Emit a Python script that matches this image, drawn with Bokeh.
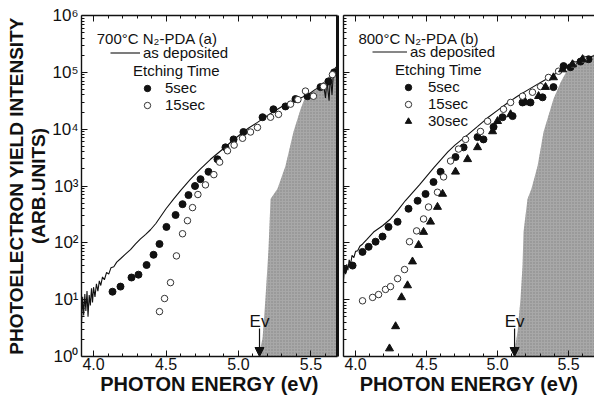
from bokeh.plotting import figure
from bokeh.layouts import row
from bokeh.models import (Range1d, LogAxis, LinearAxis, Legend, LegendItem, Label,
                          Arrow, NormalHead, FixedTicker, ColumnDataSource)
from bokeh.embed import file_html
from bokeh.resources import INLINE

FONT = "Liberation Sans"
INK = "#111111"
SHADE = "#a8a8a8"

# ---------------- axes / ticks ----------------
X_RANGE_A = (3.917, 5.683)
X_RANGE_B = (3.915, 5.683)
Y_RANGE = (1, 1e6)
XTICKS = [4.0, 4.5, 5.0, 5.5]
XTICK_LABELS = ["4.0", "4.5", "5.0", "5.5"]
XMINOR = [4.1, 4.2, 4.3, 4.4, 4.6, 4.7, 4.8, 4.9, 5.1, 5.2, 5.3, 5.4, 5.6]
YTICKS = [1, 10, 100, 1000, 10000, 100000, 1000000]
YTICK_LABELS = ["10⁰", "10¹", "10²", "10³", "10⁴", "10⁵", "10⁶"]
YMINOR = [m * 10 ** k for k in range(6) for m in range(2, 10)]

# ---------------- panel (a): 700C N2-PDA ----------------
# photon energy (eV), log10(intensity)
asdep_a_e = [3.917, 3.925, 3.932, 3.940, 3.947, 3.955, 3.962, 3.970, 3.978, 3.986,
             3.993, 4.000, 4.010, 4.020, 4.030, 4.040, 4.050, 4.062, 4.075, 4.090,
             4.105, 4.120, 4.140, 4.160, 4.186, 4.220, 4.255, 4.290, 4.324, 4.360,
             4.393, 4.430, 4.462, 4.500, 4.552, 4.600, 4.669, 4.738, 4.807, 4.897,
             4.960, 5.014, 5.070, 5.131, 5.200, 5.269, 5.320, 5.359, 5.420, 5.476,
             5.530, 5.560, 5.586, 5.600, 5.610, 5.625, 5.634, 5.645, 5.655, 5.669, 5.683]
asdep_a_log = [0.58, 1.05, 0.72, 1.10, 0.80, 1.15, 0.70, 1.08, 0.90, 1.20,
               0.95, 1.22, 1.05, 1.28, 1.15, 1.33, 1.25, 1.40, 1.35, 1.48,
               1.45, 1.56, 1.58, 1.66, 1.72, 1.80, 1.88, 1.98, 2.07, 2.15,
               2.23, 2.34, 2.46, 2.60, 2.77, 2.92, 3.12, 3.30, 3.47, 3.66,
               3.80, 3.91, 4.02, 4.12, 4.24, 4.35, 4.43, 4.48, 4.54, 4.60,
               4.70, 4.74, 4.82, 4.55, 4.85, 4.50, 4.95, 4.60, 5.00, 5.08, 5.12]
s5_a_e = [4.131, 4.186, 4.262, 4.310, 4.366, 4.414, 4.455, 4.503, 4.566, 4.614,
          4.655, 4.700, 4.738, 4.793, 4.855, 4.910, 4.966, 5.034, 5.166, 5.241,
          5.324, 5.393, 5.476, 5.566, 5.620, 5.660]
s5_a_log = [1.14, 1.23, 1.39, 1.44, 1.61, 1.79, 1.98, 2.28, 2.49, 2.68,
            2.84, 3.00, 3.12, 3.25, 3.47, 3.68, 3.82, 3.95, 4.21, 4.35,
            4.40, 4.53, 4.58, 4.74, 4.84, 5.00]
s15_a_e = [4.455, 4.490, 4.531, 4.572, 4.614, 4.648, 4.683, 4.720, 4.772, 4.830,
           4.870, 4.924, 4.970, 5.028, 5.083, 5.131, 5.221, 5.276, 5.359, 5.410,
           5.462, 5.517, 5.586, 5.648]
s15_a_log = [0.79, 1.02, 1.30, 1.77, 2.16, 2.39, 2.62, 2.85, 3.02, 3.20,
             3.42, 3.62, 3.72, 3.84, 3.95, 4.03, 4.21, 4.26, 4.44, 4.52,
             4.67, 4.58, 4.75, 4.96]
band_a_e = [5.138, 5.166, 5.186, 5.207, 5.221, 5.269, 5.324, 5.379, 5.428, 5.462,
            5.566, 5.634, 5.683, 5.683]
band_a_log = [0.0, 0.32, 1.02, 1.89, 2.77, 2.95, 3.35, 3.95, 4.35, 4.58,
              4.74, 4.96, 5.09, 0.0]
EV_A = 5.145

# ---------------- panel (b): 800C N2-PDA ----------------
asdep_b_e = [3.915, 3.922, 3.930, 3.938, 3.946, 3.955, 3.965, 3.975, 3.988, 4.000,
             4.015, 4.030, 4.050, 4.080, 4.127, 4.190, 4.246, 4.300, 4.350, 4.400,
             4.450, 4.500, 4.550, 4.600, 4.650, 4.700, 4.789, 4.860, 4.930, 5.000,
             5.070, 5.140, 5.220, 5.303, 5.380, 5.450, 5.514, 5.580, 5.640, 5.690]
asdep_b_log = [1.35, 1.55, 1.45, 1.62, 1.52, 1.70, 1.62, 1.78, 1.74, 1.85,
               1.86, 1.94, 1.98, 2.06, 2.19, 2.30, 2.42, 2.58, 2.74, 2.88,
               3.02, 3.17, 3.32, 3.46, 3.60, 3.72, 3.90, 4.05, 4.20, 4.33,
               4.46, 4.58, 4.70, 4.82, 4.93, 5.04, 5.14, 5.21, 5.26, 5.30]
s5_b_e = [3.915, 3.979, 4.049, 4.092, 4.141, 4.190, 4.232, 4.296, 4.373, 4.437,
          4.493, 4.549, 4.599, 4.704, 4.761, 4.859, 4.901, 4.972, 5.035, 5.106,
          5.176, 5.232, 5.317, 5.394, 5.465, 5.514, 5.585, 5.641]
s5_b_log = [1.53, 1.60, 1.84, 1.93, 2.02, 2.11, 2.28, 2.37, 2.60, 2.74,
            2.86, 3.07, 3.25, 3.51, 3.68, 3.86, 3.82, 4.04, 4.21, 4.23,
            4.47, 4.47, 4.56, 4.74, 5.11, 5.09, 5.19, 5.23]
s15_b_e = [4.049, 4.120, 4.162, 4.211, 4.246, 4.296, 4.345, 4.380, 4.430, 4.479,
           4.514, 4.577, 4.620, 4.669, 4.725, 4.775, 4.880, 4.930, 5.042, 5.092,
           5.176, 5.246, 5.303, 5.359, 5.430, 5.535, 5.606]
s15_b_log = [0.98, 1.04, 1.09, 1.18, 1.23, 1.37, 1.53, 2.02, 2.21, 2.42,
             2.63, 2.89, 3.16, 3.44, 3.65, 3.82, 3.96, 4.14, 4.35, 4.47,
             4.58, 4.65, 4.75, 4.91, 5.02, 5.14, 5.23]
s30_b_e = [4.239, 4.282, 4.324, 4.366, 4.401, 4.444, 4.479, 4.528, 4.577, 4.613,
           4.704, 4.789, 4.859, 4.965, 5.000, 5.092, 5.197, 5.289, 5.338, 5.394,
           5.458, 5.528, 5.599]
s30_b_log = [0.14, 0.53, 1.04, 1.25, 1.67, 1.96, 2.19, 2.37, 2.63, 2.86,
             3.25, 3.47, 3.68, 3.96, 4.14, 4.26, 4.47, 4.58, 4.74, 4.91,
             5.05, 5.14, 5.23]
band_b_e = [5.113, 5.141, 5.162, 5.176, 5.183, 5.211, 5.239, 5.282, 5.324, 5.394,
            5.444, 5.493, 5.585, 5.683, 5.683]
band_b_log = [0.0, 0.44, 1.02, 1.60, 2.19, 2.77, 2.95, 3.35, 3.95, 4.53,
              4.82, 5.05, 5.19, 5.32, 0.0]
EV_B = 5.12

FRAME_H = 341


def src(e, lg):
    return ColumnDataSource(dict(x=e, y=[10 ** v for v in lg]))


def style_xaxis(ax, labels=True):
    ax.ticker = FixedTicker(ticks=XTICKS, minor_ticks=XMINOR)
    ax.major_tick_in = 6
    ax.major_tick_out = 0
    ax.minor_tick_in = 3
    ax.minor_tick_out = 0
    ax.axis_line_color = INK
    ax.axis_line_width = 1.4
    ax.major_tick_line_color = INK
    ax.minor_tick_line_color = INK
    if labels:
        ax.major_label_overrides = dict(zip(XTICKS, XTICK_LABELS))
        ax.major_label_text_font = FONT
        ax.major_label_text_font_size = "16px"
        ax.major_label_text_color = INK
        ax.major_label_standoff = 1
        ax.axis_label = "PHOTON ENERGY (eV)"
        ax.axis_label_text_font = FONT
        ax.axis_label_text_font_size = "20px"
        ax.axis_label_text_font_style = "bold"
        ax.axis_label_text_color = INK
        ax.axis_label_standoff = 0
    else:
        ax.major_label_overrides = {t: "" for t in XTICKS}
        ax.major_label_standoff = 0


def style_yaxis(ax, labels=True, ticks=True, width=1.4):
    ax.ticker = FixedTicker(ticks=YTICKS, minor_ticks=YMINOR)
    ax.major_tick_in = 6 if ticks else 0
    ax.major_tick_out = 0
    ax.minor_tick_in = 3 if ticks else 0
    ax.minor_tick_out = 0
    ax.axis_line_color = INK
    ax.axis_line_width = width
    ax.major_tick_line_color = INK
    ax.minor_tick_line_color = INK
    if labels:
        ax.major_label_overrides = dict(zip(YTICKS, YTICK_LABELS))
        ax.major_label_text_font = FONT
        ax.major_label_text_font_size = "17px"
        ax.major_label_text_color = INK
        ax.major_label_standoff = 3
        ax.axis_label = "PHOTOELECTRON YIELD INTENSITY\n(ARB.UNITS)"
        ax.axis_label_text_font = FONT
        ax.axis_label_text_font_size = "19px"
        ax.axis_label_text_font_style = "bold"
        ax.axis_label_text_color = INK
        ax.axis_label_text_line_height = 1.05
        ax.axis_label_standoff = 0
    else:
        ax.major_label_overrides = {t: "" for t in YTICKS}
        ax.major_label_standoff = 0


def make_panel(xr, frame_w, left_border, title, asdep, series, band, ev, left_labels,
               right_axis, leg1_loc, leg2_loc, leg1_gw, leg2_gw, leg2_std):
    p = figure(frame_width=frame_w, frame_height=FRAME_H,
               x_range=Range1d(*xr), y_range=Range1d(*Y_RANGE), y_axis_type="log",
               output_backend="svg", toolbar_location=None,
               min_border_left=left_border, min_border_right=3 if right_axis else 0,
               min_border_top=15, min_border_bottom=0)
    p.outline_line_color = None
    p.xgrid.visible = False
    p.ygrid.visible = False
    p.background_fill_color = "white"
    p.border_fill_color = "white"

    style_xaxis(p.xaxis[0], True)
    style_yaxis(p.yaxis[0], left_labels)
    top = LinearAxis()
    style_xaxis(top, False)
    p.add_layout(top, "above")
    if right_axis:
        rax = LogAxis()
        style_yaxis(rax, False, ticks=False, width=3)
        p.add_layout(rax, "right")

    # valence band shading
    p.patch("x", "y", source=src(*band), fill_color=SHADE, line_color=None,
            hatch_pattern="dot", hatch_color="#6a6a6a", hatch_scale=3, hatch_weight=1,
            hatch_alpha=0.6)

    r_line = p.line("x", "y", source=src(*asdep), line_color=INK, line_width=1.1)
    renders = []
    for (e, lg), marker, fill in series:
        if marker == "circle" and fill:
            r = p.scatter("x", "y", source=src(e, lg), marker="circle", size=7,
                          fill_color=INK, line_color=INK)
        elif marker == "circle":
            r = p.scatter("x", "y", source=src(e, lg), marker="circle", size=6.5,
                          fill_color="white", line_color="#333333", line_width=1)
        else:
            r = p.scatter("x", "y", source=src(e, lg), marker="triangle", size=8,
                          fill_color=INK, line_color=INK)
        renders.append(r)

    # Ev marker
    p.add_layout(Arrow(end=NormalHead(size=9, fill_color=INK, line_color=INK),
                       x_start=ev, y_start=3.1, x_end=ev, y_end=1.0,
                       line_color=INK, line_width=1.2))
    p.add_layout(Label(x=ev, y=4.1, text="Ev", text_align="center",
                       text_baseline="alphabetic", text_font=FONT,
                       text_font_size="17px", text_color=INK))

    # panel title
    p.add_layout(Label(x=xr[0] + 0.105, y=10 ** 5.74, text=title, text_align="left",
                       text_baseline="top", text_font=FONT, text_font_size="15px",
                       text_color=INK))

    common = dict(border_line_color=None, background_fill_alpha=0, padding=0,
                  spacing=0, margin=0, label_text_font=FONT,
                  label_text_font_size="15px", label_text_color=INK)
    leg1 = Legend(items=[LegendItem(label="as deposited", renderers=[r_line])],
                  location=leg1_loc, glyph_width=leg1_gw, label_standoff=3,
                  glyph_height=13, label_height=13, **common)
    names = ["5sec", "15sec", "30sec"]
    leg2 = Legend(items=[LegendItem(label=names[i], renderers=[r]) for i, r in enumerate(renders)],
                  location=leg2_loc, glyph_width=leg2_gw, label_standoff=leg2_std,
                  glyph_height=16, label_height=16,
                  title="Etching Time", title_text_font=FONT, title_text_font_size="15px",
                  title_text_font_style="normal", title_text_color=INK, title_standoff=0,
                  **common)
    p.add_layout(leg1, "center")
    p.add_layout(leg2, "center")
    return p


p1 = make_panel(X_RANGE_A, 256, 81, "700°C N₂-PDA (a)", (asdep_a_e, asdep_a_log),
                [((s5_a_e, s5_a_log), "circle", True), ((s15_a_e, s15_a_log), "circle", False)],
                (band_a_e, band_a_log), EV_A, True, True,
                (29, FRAME_H - 46), (52, FRAME_H - 98), 30, 28, 4)
p2 = make_panel(X_RANGE_B, 251, 3, "800°C N₂-PDA (b)", (asdep_b_e, asdep_b_log),
                [((s5_b_e, s5_b_log), "circle", True), ((s15_b_e, s15_b_log), "circle", False),
                 ((s30_b_e, s30_b_log), "triangle", True)],
                (band_b_e, band_b_log), EV_B, False, False,
                (29, FRAME_H - 45), (52, FRAME_H - 114), 35, 26, 7)

layout = row(p1, p2, spacing=0)
open("out.html", "w").write(file_html(layout, INLINE))
